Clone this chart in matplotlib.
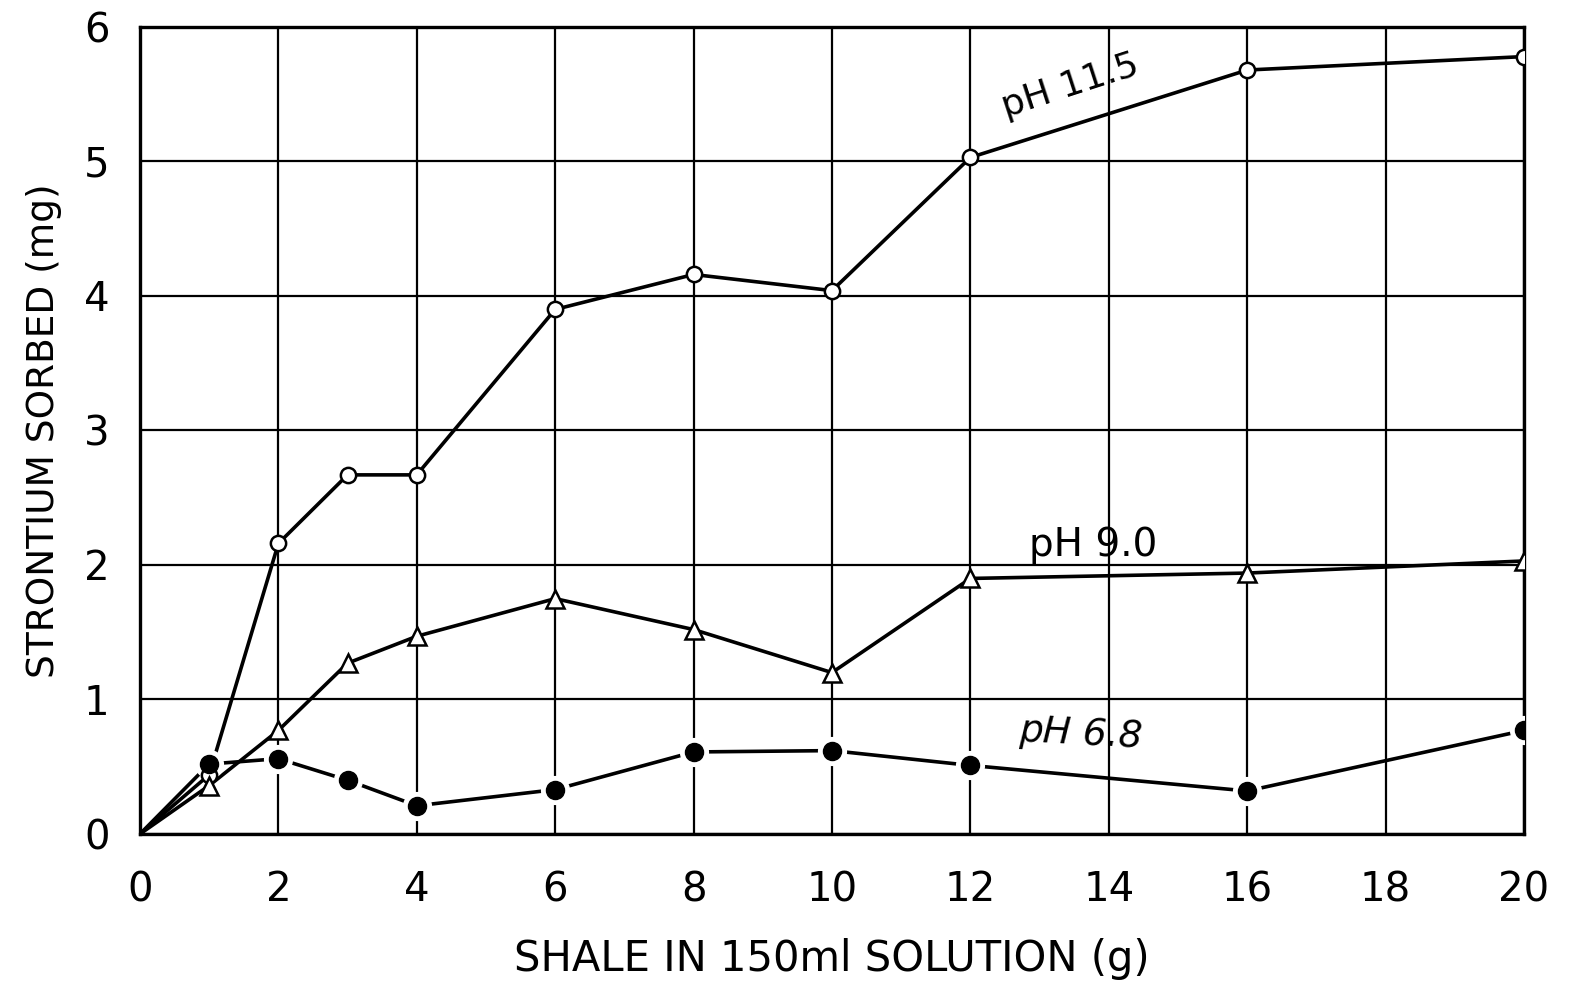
import matplotlib
matplotlib.use("Agg")
import matplotlib.pyplot as plt

plt.rcParams['font.family'] = ['DejaVu Sans']

# Shale mass (g) in 150 ml solution
shale_g = [0, 1, 2, 3, 4, 6, 8, 10, 12, 16, 20]

# Strontium sorbed (mg) at three pH levels
sr_ph115 = [0, 0.44, 2.16, 2.67, 2.67, 3.90, 4.16, 4.04, 5.03, 5.68, 5.78]
sr_ph90 = [0, 0.36, 0.77, 1.27, 1.47, 1.75, 1.52, 1.20, 1.90, 1.94, 2.03]
sr_ph68 = [0, 0.52, 0.56, 0.40, 0.21, 0.33, 0.61, 0.62, 0.51, 0.32, 0.77]

x_ticks = [0, 2, 4, 6, 8, 10, 12, 14, 16, 18, 20]
y_ticks = [0, 1, 2, 3, 4, 5, 6]

fig = plt.figure(figsize=(15.76, 9.85), dpi=100)
ax = fig.add_axes([0.0888, 0.1533, 0.967 - 0.0888, 0.9726 - 0.1533])

ax.set_xlim(0, 20)
ax.set_ylim(0, 6)
ax.set_xticks(x_ticks)
ax.set_yticks(y_ticks)
ax.grid(True, color='black', linewidth=1.6)
ax.set_axisbelow(True)
for s in ax.spines.values():
    s.set_linewidth(2.4)
ax.tick_params(length=0, labelsize=29)
ax.tick_params(axis='y', pad=22)
ax.tick_params(axis='x', pad=26)

lw = 2.6
# pH 11.5 open circles
ax.plot(shale_g, sr_ph115, color='black', lw=lw, zorder=3)
ax.plot(shale_g[1:], sr_ph115[1:], ls='none', marker='o', ms=11,
        mfc='white', mec='black', mew=1.8, zorder=5)

# pH 9.0 open triangles
ax.plot(shale_g, sr_ph90, color='black', lw=lw, zorder=3)
ax.plot(shale_g[1:], sr_ph90[1:], ls='none', marker='^', ms=13,
        mfc='white', mec='black', mew=1.8, zorder=5)

# pH 6.8 filled circles with a white halo that breaks the line
ax.plot(shale_g, sr_ph68, color='black', lw=lw, zorder=3)
ax.plot(shale_g[1:], sr_ph68[1:], ls='none', marker='o', ms=20,
        mfc='white', mec='white', zorder=4)
ax.plot(shale_g[1:], sr_ph68[1:], ls='none', marker='o', ms=13,
        mfc='black', mec='black', zorder=6)

ax.text(13.45, 5.56, 'pH 11.5', fontsize=26, rotation=18,
        ha='center', va='center', zorder=7)
ax.text(13.77, 2.15, 'pH 9.0', fontsize=28, ha='center', va='center', zorder=7)
ax.text(13.6, 0.74, 'pH 6.8', fontsize=27, rotation=-3, style='italic',
        ha='center', va='center', zorder=7)

ax.set_xlabel('SHALE IN 150ml SOLUTION (g)', fontsize=30, labelpad=20)
ax.set_ylabel('STRONTIUM SORBED (mg)', fontsize=27, labelpad=16)

fig.savefig('out.png', dpi=100)
